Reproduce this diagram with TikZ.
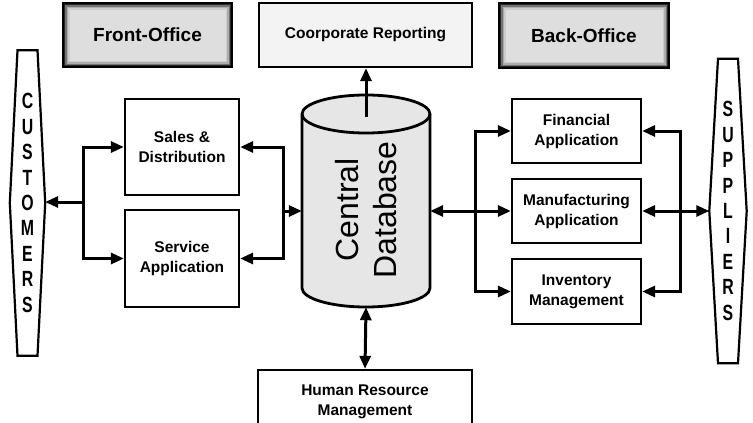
\documentclass[tikz,border=0pt]{standalone}
\usepackage{fontspec}
\setmainfont{Liberation Sans}
\newfontfamily\bannerfont[FakeStretch=0.72]{Liberation Sans}
\usepackage{tikz}
\usetikzlibrary{arrows.meta,calc}
\definecolor{dbgray}{HTML}{E6E6E6}
\definecolor{reportgray}{HTML}{F3F3F3}

\begin{document}
\begin{tikzpicture}[x=1pt,y=-1pt,>={Triangle[length=13pt,width=11pt]},
    box/.style={draw,line width=2.3pt,fill=white,inner sep=0pt,align=center,font=\fontsize{15.5}{20}\selectfont\bfseries},
    office/.style={box,font=\fontsize{19}{22}\selectfont\bfseries,path picture={
        \foreach \d/\c in {0/85,2/55,3.5/32,5/20,6.5/13}
          \fill[black!\c] ([xshift=\d,yshift=-\d]path picture bounding box.north west) rectangle ([xshift=-\d,yshift=\d]path picture bounding box.south east);}},
    banner/.style={inner sep=0pt,align=center,font=\bannerfont\fontsize{22}{25.4}\selectfont\bfseries},
    wire/.style={line width=3pt}]
    \clip (0,0) rectangle (753,423);
    \node[office,minimum width=169,minimum height=64] (front) at (147.5,35) {Front-Office};
    \node[box,fill=reportgray,minimum width=213,minimum height=64] (report) at (365.5,35) {Coorporate Reporting};
    \node[office,minimum width=170,minimum height=65] (back) at (584,35.5) {Back-Office};
    \node[box,minimum width=114,minimum height=96] (sales) at (182,147) {Sales \&\\Distribution};
    \node[box,minimum width=114,minimum height=97] (service) at (182,258.5) {Service\\Application};
    \node[box,minimum width=129,minimum height=64] (fin) at (576.5,131) {Financial\\Application};
    \node[box,minimum width=129,minimum height=64] (manu) at (576.5,211) {Manufacturing\\Application};
    \node[box,minimum width=129,minimum height=65] (inv) at (576.5,291.5) {Inventory\\Management};
    \node[box,minimum width=214,minimum height=64] (hr) at (365,402) {Human Resource\\Management};
    \node[banner,minimum width=35,minimum height=305] (cust) at (27.5,203) {C\\U\\S\\T\\O\\M\\E\\R\\S};
    \node[banner,minimum width=37,minimum height=304] (sup) at (728,211) {S\\U\\P\\P\\L\\I\\E\\R\\S};
    \draw[line width=2.2pt] ([xshift=-10]cust.north) -- ([xshift=10]cust.north) -- (cust.east) -- ([xshift=10]cust.south) -- ([xshift=-10]cust.south) -- (cust.west) -- cycle;
    \draw[line width=2.2pt] ([xshift=-10]sup.north) -- ([xshift=10]sup.north) -- (sup.east) -- ([xshift=10]sup.south) -- ([xshift=-10]sup.south) -- (sup.west) -- cycle;
    \draw[line width=2.8pt,fill=dbgray] (302,114) -- (302,288) arc[start angle=180,end angle=0,x radius=64,y radius=19] -- (430,114) arc[start angle=0,end angle=-180,x radius=64,y radius=19] -- cycle;
    \draw[line width=2.8pt] (302,114) arc[start angle=180,end angle=0,x radius=64,y radius=19];
    \node[minimum width=128,minimum height=212,inner sep=0pt] (db) at (366,201) {};
    \node[rotate=90,align=center,font=\fontsize{32}{38}\selectfont] (dblabel) at (366,210) {Central\\Database};
    \coordinate (cl) at (83,202);
    \coordinate (cm) at (283,211);
    \coordinate (cr) at (475,211);
    \coordinate (cs) at (680,211);
    \coordinate (dbtop) at (366,117);
    \draw[wire,->] (cl) -- (cl -| cust.east);
    \draw[wire,->] (cl) |- (sales.west);
    \draw[wire,->] (cl) |- (service.west);
    \draw[wire,->] (cm) |- (sales.east);
    \draw[wire,->] (cm) |- (service.east);
    \draw[wire,->] (cm) -- (cm -| db.west);
    \draw[wire,<->] (cr -| db.east) -- (manu.west);
    \draw[wire,->] (cr) |- (fin.west);
    \draw[wire,->] (cr) |- (inv.west);
    \draw[wire,<->] (manu.east) -- (sup.west);
    \draw[wire,->] (cs) |- (fin.east);
    \draw[wire,->] (cs) |- (inv.east);
    \draw[wire,->] (dbtop) -- (dbtop |- report.south);
    \draw[wire,<->] (db.south) -- (hr.north);
  \end{tikzpicture}
\end{document}
